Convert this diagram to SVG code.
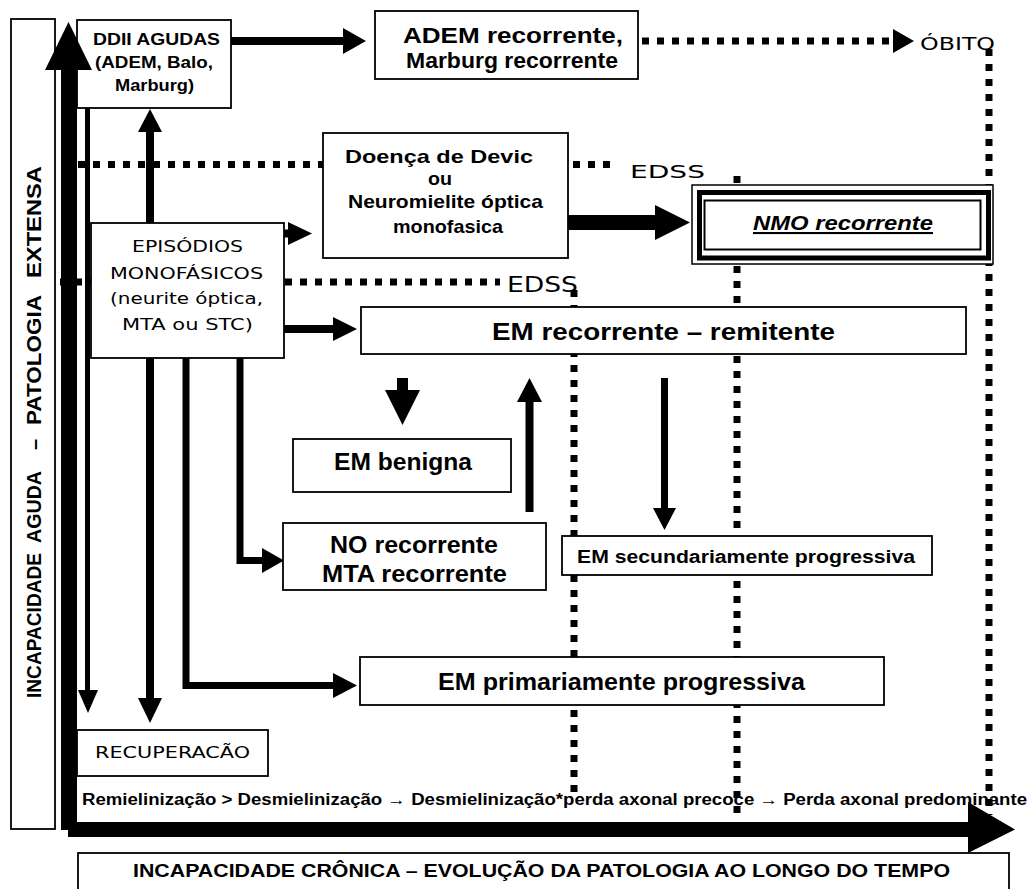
<svg xmlns="http://www.w3.org/2000/svg" width="1035" height="889" viewBox="0 0 1035 889">
<defs>
<style>
.box{fill:#fff;stroke:#000;stroke-width:1.8}
.b{font-family:"Liberation Sans",Arial,sans-serif;font-weight:bold;fill:#000}
.g{font-family:"DejaVu Sans","Liberation Sans",sans-serif;fill:#000}
.dot{fill:none;stroke:#000;stroke-width:7;stroke-dasharray:7 8}
.ln{fill:none;stroke:#000;stroke-linejoin:miter}
.hd{fill:#000}
</style>
</defs>
<rect width="1035" height="889" fill="#fff"/>
<g id="connectors">
  <line class="dot" x1="78" y1="164.5" x2="612" y2="164.5"/>
  <line class="dot" x1="60" y1="282" x2="500" y2="282"/>
  <line class="dot" x1="642" y1="41" x2="893" y2="41"/>
  <polygon class="hd" points="893,29 914,41 893,53"/>
  <line class="dot" x1="989" y1="49" x2="989" y2="815"/>
  <line class="dot" x1="737" y1="176" x2="737" y2="820"/>
  <line class="dot" x1="574" y1="290" x2="574" y2="797"/>

  <line class="ln" x1="231" y1="41" x2="345" y2="41" stroke-width="8"/>
  <polygon class="hd" points="343,28 366,41 343,54"/>

  <line class="ln" x1="87.5" y1="108" x2="87.5" y2="692" stroke-width="5"/>
  <polygon class="hd" points="78,690 98,690 88,713"/>

  <line class="ln" x1="150" y1="223" x2="150" y2="130" stroke-width="8"/>
  <polygon class="hd" points="138,132 162,132 150,109"/>
  <line class="ln" x1="150" y1="358" x2="150" y2="700" stroke-width="8"/>
  <polygon class="hd" points="138,698 162,698 150,723"/>

  <line class="ln" x1="284" y1="233.5" x2="290" y2="233.5" stroke-width="8"/>
  <polygon class="hd" points="288,222 312,233.5 288,245"/>

  <line class="ln" x1="284" y1="329" x2="335" y2="329" stroke-width="8"/>
  <polygon class="hd" points="333,317 357,329 333,341"/>

  <polyline class="ln" points="186,358 186,685.5 335,685.5" stroke-width="7"/>
  <polygon class="hd" points="333,673 357,685.5 333,698"/>

  <polyline class="ln" points="240,358 240,560.5 264,560.5" stroke-width="7"/>
  <polygon class="hd" points="262,548 284,560.5 262,573"/>

  <rect class="hd" x="397" y="378" width="11" height="14"/>
  <polygon class="hd" points="385,390 420,390 402.5,425"/>

  <line class="ln" x1="529.5" y1="512" x2="529.5" y2="400" stroke-width="8"/>
  <polygon class="hd" points="517,402 542,402 529.5,378"/>

  <line class="ln" x1="664.5" y1="378" x2="664.5" y2="510" stroke-width="7"/>
  <polygon class="hd" points="653,508 676,508 664.5,530"/>

  <rect class="hd" x="568" y="215" width="89" height="15"/>
  <polygon class="hd" points="655,205 690,222.5 655,240"/>
</g>
<g id="nodes">
  <g id="label-acute">
    <rect class="box" x="11" y="19" width="44" height="810"/>
    <text class="b" font-size="20" transform="translate(41,698) rotate(-90)" textLength="145" lengthAdjust="spacingAndGlyphs">INCAPACIDADE</text>
    <text class="b" font-size="20" transform="translate(41,543) rotate(-90)" textLength="72" lengthAdjust="spacingAndGlyphs">AGUDA</text>
    <text class="b" font-size="20" transform="translate(41,450) rotate(-90)">–</text>
    <text class="b" font-size="20" transform="translate(41,425) rotate(-90)" textLength="130" lengthAdjust="spacingAndGlyphs">PATOLOGIA</text>
    <text class="b" font-size="20" transform="translate(41,278) rotate(-90)" textLength="112" lengthAdjust="spacingAndGlyphs">EXTENSA</text>
  </g>
  <g id="ddii">
    <rect class="box" x="77" y="20" width="154" height="88"/>
    <text class="b" font-size="17" x="93" y="45" textLength="127" lengthAdjust="spacingAndGlyphs">DDII AGUDAS</text>
    <text class="b" font-size="17" x="95" y="68" textLength="118" lengthAdjust="spacingAndGlyphs">(ADEM, Balo,</text>
    <text class="b" font-size="17" x="115" y="91" textLength="79" lengthAdjust="spacingAndGlyphs">Marburg)</text>
  </g>
  <g id="adem">
    <rect class="box" x="375" y="11" width="263" height="68"/>
    <text class="b" font-size="22" x="403" y="43" textLength="220" lengthAdjust="spacingAndGlyphs">ADEM recorrente,</text>
    <text class="b" font-size="22" x="406" y="68" textLength="212" lengthAdjust="spacingAndGlyphs">Marburg recorrente</text>
  </g>
  <g id="obito">
    <text class="g" font-size="17" x="920" y="50" textLength="75" lengthAdjust="spacingAndGlyphs">ÓBITO</text>
  </g>
  <g id="devic">
    <rect class="box" x="323" y="133" width="245" height="125"/>
    <text class="b" font-size="19" x="345" y="163" textLength="188" lengthAdjust="spacingAndGlyphs">Doença de Devic</text>
    <text class="b" font-size="19" x="428" y="185" textLength="24" lengthAdjust="spacingAndGlyphs">ou</text>
    <text class="b" font-size="19" x="348" y="208" textLength="195" lengthAdjust="spacingAndGlyphs">Neuromielite óptica</text>
    <text class="b" font-size="19" x="393" y="233" textLength="110" lengthAdjust="spacingAndGlyphs">monofasica</text>
  </g>
  <g id="edss1">
    <text class="g" font-size="18" x="630" y="178" textLength="75" lengthAdjust="spacingAndGlyphs">EDSS</text>
  </g>
  <g id="edss2">
    <text class="g" font-size="22" x="507" y="292" textLength="71" lengthAdjust="spacingAndGlyphs">EDSS</text>
  </g>
  <g id="nmo">
    <rect x="692" y="185" width="301" height="79" fill="#fff" stroke="#000" stroke-width="1.5"/>
    <rect x="699.5" y="192.5" width="289" height="65.5" fill="none" stroke="#000" stroke-width="5"/>
    <rect x="704.5" y="200.5" width="276" height="49" fill="none" stroke="#000" stroke-width="2"/>
    <text class="b" font-size="21" font-style="italic" text-decoration="underline" x="753" y="230" textLength="180" lengthAdjust="spacingAndGlyphs">NMO recorrente</text>
  </g>
  <g id="episodios">
    <rect class="box" x="91" y="223" width="193" height="135"/>
    <text class="g" font-size="16.5" x="132" y="252" textLength="111" lengthAdjust="spacingAndGlyphs">EPISÓDIOS</text>
    <text class="g" font-size="16.5" x="110" y="279" textLength="153" lengthAdjust="spacingAndGlyphs">MONOFÁSICOS</text>
    <text class="g" font-size="16.5" x="110" y="304" textLength="153" lengthAdjust="spacingAndGlyphs">(neurite óptica,</text>
    <text class="g" font-size="16.5" x="122" y="330" textLength="131" lengthAdjust="spacingAndGlyphs">MTA ou STC)</text>
  </g>
  <g id="em-rr">
    <rect class="box" x="361" y="307" width="605" height="47"/>
    <text class="b" font-size="24" x="492" y="340" textLength="343" lengthAdjust="spacingAndGlyphs">EM recorrente – remitente</text>
  </g>
  <g id="em-benigna">
    <rect class="box" x="293" y="439" width="218" height="53"/>
    <text class="b" font-size="24" x="334" y="470" textLength="138" lengthAdjust="spacingAndGlyphs">EM benigna</text>
  </g>
  <g id="no-recorrente">
    <rect class="box" x="283" y="523" width="263" height="67"/>
    <text class="b" font-size="23" x="330" y="553" textLength="168" lengthAdjust="spacingAndGlyphs">NO recorrente</text>
    <text class="b" font-size="23" x="322" y="582" textLength="185" lengthAdjust="spacingAndGlyphs">MTA recorrente</text>
  </g>
  <g id="em-sec">
    <rect class="box" x="562" y="536" width="370" height="39"/>
    <text class="b" font-size="18" x="577" y="563" textLength="338" lengthAdjust="spacingAndGlyphs">EM secundariamente progressiva</text>
  </g>
  <g id="em-prim">
    <rect class="box" x="360" y="657" width="524" height="48"/>
    <text class="b" font-size="24" x="438" y="690" textLength="367" lengthAdjust="spacingAndGlyphs">EM primariamente progressiva</text>
  </g>
  <g id="recuperacao">
    <rect class="box" x="77" y="730" width="191" height="46"/>
    <text class="g" font-size="16.5" x="95" y="758" textLength="155" lengthAdjust="spacingAndGlyphs">RECUPERACÃO</text>
  </g>
  <g id="timeline-text">
    <text class="b" font-size="16" x="82" y="805" textLength="945" lengthAdjust="spacingAndGlyphs">Remielinização &gt; Desmielinização → Desmielinização*perda axonal precoce → Perda axonal predominante</text>
  </g>
  <g id="label-chronic">
    <rect class="box" x="78" y="853" width="931" height="45"/>
    <text class="b" font-size="19" x="133" y="877" textLength="817" lengthAdjust="spacingAndGlyphs">INCAPACIDADE CRÔNICA – EVOLUÇÃO DA PATOLOGIA AO LONGO DO TEMPO</text>
  </g>
</g>
<g id="axes">
  <rect class="hd" x="61" y="66" width="16" height="764"/>
  <polygon class="hd" points="45,70 92,70 68.5,22"/>
  <rect class="hd" x="68" y="822" width="902" height="15"/>
  <polygon class="hd" points="968,802 1015,829.5 968,853"/>
</g>
</svg>
